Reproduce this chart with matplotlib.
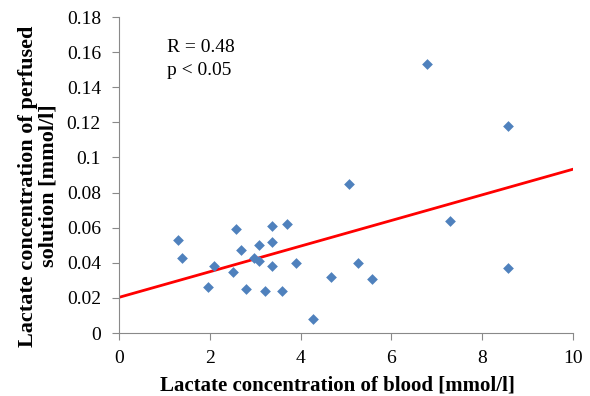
import numpy as np
import matplotlib.pyplot as plt

plt.rcParams['font.family'] = ['Liberation Serif', 'DejaVu Serif']

# blood lactate (mmol/l) vs perfused solution lactate (mmol/l)
blood = [1.29, 1.39, 1.97, 2.10, 2.50, 2.58, 2.69, 2.79, 2.98, 3.09, 3.09,
         3.21, 3.38, 3.38, 3.38, 3.60, 3.69, 3.89, 4.28, 4.68, 5.06, 5.27,
         5.57, 6.78, 7.28, 8.57, 8.57]
perfused = [0.053, 0.043, 0.026, 0.038, 0.035, 0.059, 0.047, 0.025, 0.043,
            0.050, 0.041, 0.024, 0.061, 0.052, 0.038, 0.024, 0.062, 0.040,
            0.008, 0.032, 0.085, 0.040, 0.031, 0.153, 0.064, 0.118, 0.037]

# linear trendline
intercept = 0.0203
slope = 0.0073

fig = plt.figure(figsize=(5.9, 3.96), dpi=100)
ax = fig.add_axes([119/590, 1 - 333/396, (573-119)/590, (333-17)/396])

xs = np.array([0, 10])
ax.plot(xs, intercept + slope * xs, color='#FF0000', lw=2, zorder=2)
ax.scatter(blood, perfused, marker='D', s=30, color='#4F81BD', zorder=3, linewidths=0)

ax.set_xlim(0, 10)
ax.set_ylim(0, 0.18)
ax.set_xticks([0, 2, 4, 6, 8, 10])
ax.set_yticks(np.arange(0, 0.181, 0.02))
ax.set_yticklabels(['0', '0.02', '0.04', '0.06', '0.08', '0.1', '0.12', '0.14', '0.16', '0.18'])

for s in ['top', 'right']:
    ax.spines[s].set_visible(False)
for s in ['left', 'bottom']:
    ax.spines[s].set_color('#898989')
ax.tick_params(direction='out', color='#898989', labelsize=14, length=5)
ax.tick_params(axis='x', pad=7)
ax.tick_params(axis='y', pad=8)

ax.set_xlabel('Lactate concentration of blood [mmol/l]', fontsize=15, fontweight='bold')
ax.xaxis.set_label_coords(0.481, -0.135)
ax.set_ylabel('Lactate concentration of perfused\nsolution [mmol/l]', fontsize=16,
              fontweight='bold', linespacing=1.0)
ax.yaxis.set_label_coords(-0.134, 0.465)

ax.text(1.05, 0.156, 'R = 0.48\np < 0.05', fontsize=14, va='center', linespacing=1.5)

fig.savefig('out.png', dpi=100)
